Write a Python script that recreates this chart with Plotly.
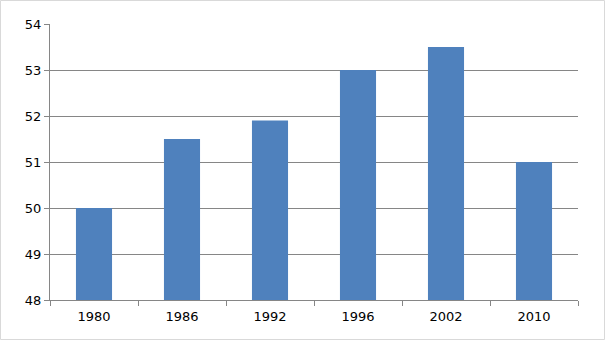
import plotly.graph_objects as go

years = ["1980", "1986", "1992", "1996", "2002", "2010"]
values = [50.0, 51.5, 51.9, 53.0, 53.5, 51.0]

W, H = 605, 340
L, R, T, B = 50, 27, 24, 40
pw, ph = W - L - R, H - T - B

fig = go.Figure(go.Bar(x=years, y=values, base=48, marker_color="#4F81BD",
                       marker_line_width=0, hoverinfo="skip"))
fig.update_traces(y=[v - 48 for v in values])

fig.update_layout(
    width=W, height=H,
    margin=dict(l=L, r=R, t=T, b=B),
    paper_bgcolor="white", plot_bgcolor="white",
    bargap=0.59,
    showlegend=False,
    font=dict(family="DejaVu Sans", size=13, color="black"),
    xaxis=dict(type="category", tickson="boundaries", ticks="outside", ticklen=5,
               tickcolor="#868686", showline=True, linecolor="#868686", linewidth=1,
               showgrid=False, ticklabelstandoff=4),
    yaxis=dict(range=[48, 54], dtick=1, ticks="outside", ticklen=5, tickcolor="#868686",
               showline=True, linecolor="#868686", linewidth=1,
               showgrid=True, gridcolor="#868686", gridwidth=1, zeroline=False),
    shapes=[dict(type="rect", xref="paper", yref="paper",
                 x0=(0.5 - L) / pw, x1=(W - 0.5 - L) / pw,
                 y0=(T + ph - (H - 0.5)) / ph, y1=(T + ph - 0.5) / ph,
                 line=dict(color="#d9d9d9", width=1), layer="below")],
)
fig.write_html("out.html")
